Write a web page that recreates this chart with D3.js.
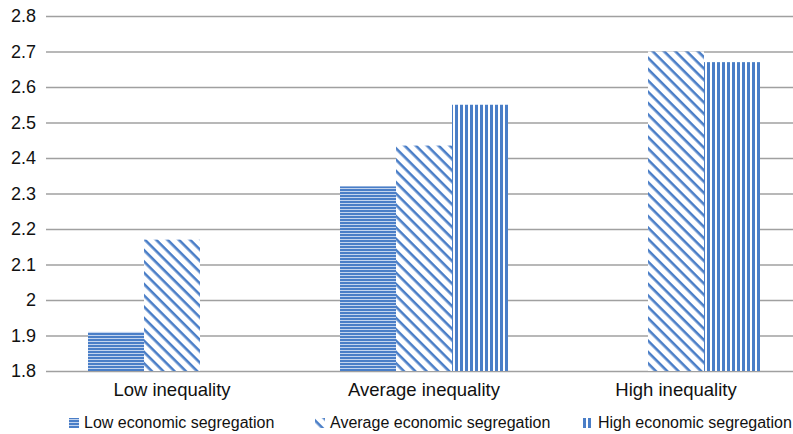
<!DOCTYPE html>
<html>
<head>
<meta charset="utf-8">
<script src="https://cdnjs.cloudflare.com/ajax/libs/d3/7.8.5/d3.min.js"></script>
<style>
  body { margin: 0; background: #fff; }
  text { font-family: "Liberation Sans", Arial, sans-serif; fill: #111; }
</style>
</head>
<body>
<script>
var categories = ["Low inequality", "Average inequality", "High inequality"];
var seriesNames = ["Low economic segregation", "Average economic segregation", "High economic segregation"];
var lowSeg = [1.91, 2.32, null];
var avgSeg = [2.17, 2.435, 2.70];
var highSeg = [null, 2.55, 2.67];
var yTicks = [1.8, 1.9, 2, 2.1, 2.2, 2.3, 2.4, 2.5, 2.6, 2.7, 2.8];

var W = 793, H = 434;
var plotLeft = 46, plotTop = 16, plotBottom = 371;
var blue = "#4a7ec7";

var svg = d3.select("body").append("svg")
    .attr("width", W)
    .attr("height", H);

// hatch patterns
var defs = svg.append("defs");
var pH = defs.append("pattern").attr("id", "p-low")
    .attr("patternUnits", "userSpaceOnUse").attr("width", 6).attr("height", 3);
pH.append("rect").attr("width", 6).attr("height", 3).attr("fill", "#c3d4ee");
pH.append("rect").attr("width", 6).attr("height", 2).attr("fill", blue);

var pD = defs.append("pattern").attr("id", "p-avg")
    .attr("patternUnits", "userSpaceOnUse").attr("width", 8).attr("height", 8)
    .attr("patternTransform", "rotate(45)");
pD.append("rect").attr("width", 8).attr("height", 8).attr("fill", "#fff");
pD.append("rect").attr("width", 8).attr("height", 2.6).attr("fill", blue);

var pV = defs.append("pattern").attr("id", "p-high")
    .attr("patternUnits", "userSpaceOnUse").attr("width", 5).attr("height", 6);
pV.append("rect").attr("width", 5).attr("height", 6).attr("fill", "#fff");
pV.append("rect").attr("width", 3).attr("height", 6).attr("fill", blue);

var fills = ["url(#p-low)", "url(#p-avg)", "url(#p-high)"];

var y = d3.scaleLinear().domain([1.8, 2.8]).range([plotBottom, plotTop]);
var x0 = d3.scaleBand().domain(categories).range([plotLeft, plotLeft + 756])
    .paddingInner(1 / 3).paddingOuter(1 / 6);
var x1 = d3.scaleBand().domain(seriesNames).range([0, x0.bandwidth()]);

// y axis with gridlines
var yAxis = svg.append("g")
    .attr("transform", "translate(" + plotLeft + ",0)")
    .call(d3.axisLeft(y).tickValues(yTicks).tickSize(-(W - plotLeft)).tickPadding(10)
        .tickFormat(function (d) { return d3.format("")(d); }));
yAxis.select(".domain").remove();
yAxis.selectAll(".tick line").attr("stroke", "#a0a0a0").attr("stroke-width", 1.3);
yAxis.selectAll(".tick text").style("font-size", "18px")
    .style("font-family", "'Liberation Sans', Arial, sans-serif").attr("fill", "#111");

// bars
var rows = categories.map(function (c, i) {
    return { cat: c, vals: [lowSeg[i], avgSeg[i], highSeg[i]] };
});
var groups = svg.selectAll("g.cat")
    .data(rows)
    .enter().append("g")
    .attr("class", "cat")
    .attr("transform", function (d) { return "translate(" + x0(d.cat) + ",0)"; });

groups.selectAll("rect")
    .data(function (d) {
        return d.vals.map(function (v, j) { return { s: seriesNames[j], v: v, j: j }; })
            .filter(function (e) { return e.v != null; });
    })
    .enter().append("rect")
    .attr("x", function (d) { return x1(d.s); })
    .attr("width", x1.bandwidth())
    .attr("y", function (d) { return y(d.v); })
    .attr("height", function (d) { return y(1.8) - y(d.v); })
    .attr("fill", function (d) { return fills[d.j]; });

// category labels
svg.selectAll("text.cat")
    .data(categories)
    .enter().append("text")
    .attr("class", "cat")
    .attr("x", function (d) { return x0(d) + x0.bandwidth() / 2; })
    .attr("y", 396)
    .attr("text-anchor", "middle")
    .style("font-size", "18.5px")
    .text(function (d) { return d; });

// legend
var legX = [69, 315, 583];
var leg = svg.selectAll("g.leg")
    .data(seriesNames)
    .enter().append("g")
    .attr("class", "leg")
    .attr("transform", function (d, i) { return "translate(" + legX[i] + ",0)"; });
leg.append("rect")
    .attr("x", 0).attr("y", 418)
    .attr("width", 10).attr("height", 10)
    .attr("fill", function (d, i) { return fills[i]; });
leg.append("text")
    .attr("x", 15).attr("y", 428)
    .style("font-size", "16px")
    .text(function (d) { return d; });
</script>
</body>
</html>
